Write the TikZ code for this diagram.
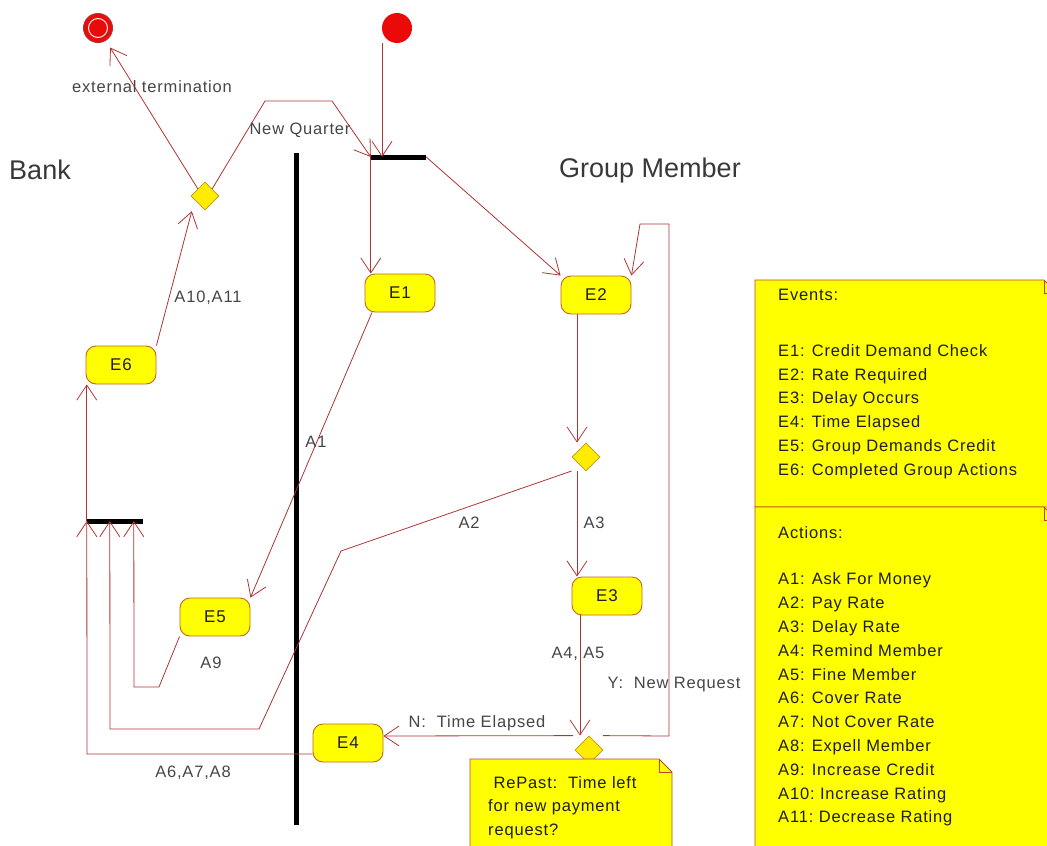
\documentclass[tikz,border=0pt]{standalone}
\usepackage{fontspec}
\setmainfont{Liberation Sans}
\newfontfamily\widesans[LetterSpace=5]{Liberation Sans}
\usetikzlibrary{shapes.geometric,arrows.meta,calc}

\definecolor{flowred}{RGB}{176,52,52}
\definecolor{stateedge}{RGB}{196,100,40}
\definecolor{stateyellow}{RGB}{255,255,0}
\definecolor{decisionedge}{RGB}{196,150,20}
\definecolor{decisionfill}{RGB}{255,236,0}
\definecolor{noteedge}{RGB}{190,70,40}
\definecolor{labelgray}{RGB}{70,70,70}
\definecolor{notetext}{RGB}{30,30,30}
\definecolor{startred}{RGB}{235,10,10}

\tikzset{
  flow/.style={draw=flowred, line width=0.8pt, -{Straight Barb[length=15pt,width=20pt,line width=0.8pt]}},
  statebox/.style={draw=stateedge, fill=stateyellow, line width=0.9pt, rounded corners=10pt,
    minimum width=70pt, minimum height=38pt, inner sep=0pt, text=notetext,
    font=\widesans\fontsize{17}{20}\selectfont},
  decision/.style={draw=decisionedge, fill=decisionfill, line width=0.8pt, diamond, aspect=1,
    minimum size=28pt, inner sep=0pt},
  bar/.style={fill=black, inner sep=0pt, minimum height=5pt},
  lbl/.style={text=labelgray, inner sep=0pt, font=\widesans\fontsize{16.5}{20}\selectfont},
  lane/.style={text=labelgray!80!black, inner sep=0pt, font=\fontsize{27}{32}\selectfont},
  notebody/.style={draw=noteedge, fill=stateyellow, line width=0.9pt},
  notetxt/.style={text=notetext, inner sep=0pt, align=left, anchor=north west,
    font=\widesans\fontsize{16.5}{23.8}\selectfont},
}

\begin{document}
\begin{tikzpicture}[x=1pt,y=-1pt]
\useasboundingbox (0,0) rectangle (1047,846);
\clip (0,0) rectangle (1047,846);

% swimlane divider
\coordinate (laneTop) at (296,153);
\coordinate (laneBot) at (296,825);
\draw[line width=5pt] (laneTop) -- (laneBot);

% swimlane titles
\node[lane] (bank) at (40,170) {Bank};
\node[lane] (gm) at (650,171) {Group Member};

% initial and final states
\node[circle, fill=startred, minimum size=30pt, inner sep=0pt] (ini) at (397,28) {};
\node[circle, fill=startred, draw=flowred, line width=1pt, minimum size=29pt, inner sep=0pt,
  path picture={\draw[white, line width=0.9pt] (path picture bounding box.center) circle (9.5pt);}]
  (fin) at (98,28) {};

% fork and join bars
\node[bar, minimum width=55pt] (fork) at (398.5,157) {};
\node[bar, minimum width=56pt] (join) at (115,521) {};

% decisions
\node[decision] (d1) at (205,196) {};
\node[decision] (d2) at (586,457) {};
\node[decision] (d3) at (589,750) {};

% events
\node[statebox] (E1) at (400,293) {E1};
\node[statebox] (E2) at (596,295) {E2};
\node[statebox] (E3) at (607,596) {E3};
\node[statebox] (E4) at (348,743) {E4};
\node[statebox] (E5) at (215,617) {E5};
\node[statebox] (E6) at (121,365) {E6};

% transitions
\draw[flow] ([xshift=-15pt]ini.south) -- ([xshift=-15pt]ini.south |- fork.center);
\draw[flow, shorten >=8pt] (d1.north west) -- (fin);
\draw[flow] (d1.north east) -- (265,101) -- (332,101) -- (fork.west);
\draw[flow] (fork.west) -- (fork.west |- E1.north);
\draw[flow] (fork.east) -- (E2.north west);
\draw[flow] ([xshift=-19pt]E2.south) -- ([xshift=-19pt]E2.south |- d2.north);
\draw[flow] ([xshift=-30pt]E3.north |- d2.south) -- ([xshift=-30pt]E3.north);
\draw[flow] ($(d2.west)+(0,14)$) -- (341,551) -- (259,729) -- (110,729) -- ([xshift=23pt]join.west);
\draw[flow] ([xshift=-28pt]E1.south) -- (E5.north east);
\draw[flow] (E5.south west) -- (159,687) -- (134,687) -- ([xshift=47pt]join.west);
\draw[flow] ([xshift=-27pt]E3.south) -- ([xshift=-27pt]E3.south |- d3.north);
\draw[flow] ([xshift=-16pt]d3.north) -- ([yshift=7pt]E4.east);
\draw[flow] ([xshift=14pt]d3.north) -- (669,736) -- (669,224) -- (640,224) -- (E2.north east);
\draw[flow] ([yshift=-11pt]E4.west) -- (87,754) -- (join.west);
\draw[flow] (join.west) -- (join.west |- E6.south);
\draw[flow] (E6.north east) -- ($(d1.south west)+(-6,8)$);

% transition labels
\node[lbl] (extTerm) at (152,87) {external termination};
\node[lbl] (newQuarter) at (300,130) {New Quarter};
\node[lbl] (lA1011) at (208,298) {A10,A11};
\node[lbl] (lA1) at (316,442) {A1};
\node[lbl] (lA2) at (469,523) {A2};
\node[lbl] (lA3) at (594,523) {A3};
\node[lbl] (lA9) at (211,663) {A9};
\node[lbl] (lA45) at (578,654) {A4, A5};
\node[lbl] (lYes) at (674,685) {Y:\ \ New Request};
\node[lbl] (lNo) at (477,723) {N:\ \ Time Elapsed};
\node[lbl] (lA678) at (193,773) {A6,A7,A8};

% decision note
\draw[notebody] (470,759) -- (659,759) -- (672,772) -- (672,860) -- (470,860) -- cycle;
\draw[noteedge, line width=0.9pt] (659,759) -- (659,772) -- (672,772);
\node[notetxt] (repast) at (488,776) {\ RePast:\ \ Time left\\for new payment\\request?};

% legend notes
\draw[notebody] (755,280) -- (1044,280) -- (1057,293) -- (1057,507) -- (755,507) -- cycle;
\draw[noteedge, line width=0.9pt] (1044,280) -- (1044,293) -- (1057,293);
\node[notetxt] (events) at (778,289) {Events:\\[32pt]E1: Credit Demand Check\\E2: Rate Required\\E3: Delay Occurs\\E4: Time Elapsed\\E5: Group Demands Credit\\E6: Completed Group Actions};

\draw[notebody] (755,507) -- (1044,507) -- (1057,520) -- (1057,860) -- (755,860) -- cycle;
\draw[noteedge, line width=0.9pt] (1044,507) -- (1044,520) -- (1057,520);
\node[notetxt] (actions) at (778,526) {Actions:\\[23pt]A1: Ask For Money\\A2: Pay Rate\\A3: Delay Rate\\A4: Remind Member\\A5: Fine Member\\A6: Cover Rate\\A7: Not Cover Rate\\A8: Expell Member\\A9: Increase Credit\\A10:\ Increase Rating\\A11:\ Decrease Rating};
\end{tikzpicture}
\end{document}
